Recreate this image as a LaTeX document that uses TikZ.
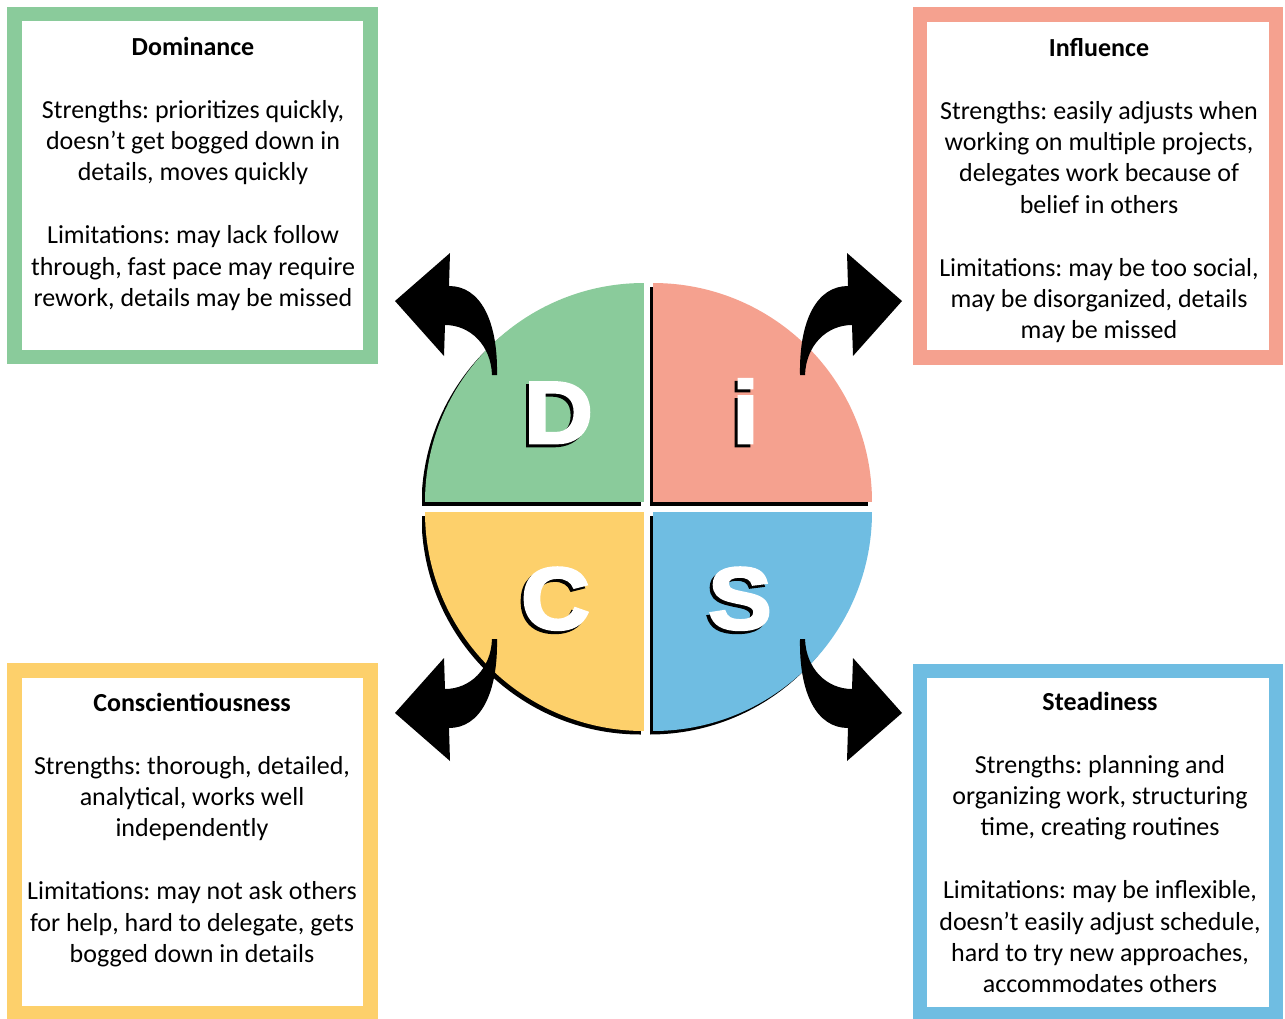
\documentclass[tikz,border=0pt]{standalone}
\usepackage{fontspec}
\usepackage{graphicx}
\setmainfont{Carlito}
\newfontface\discfont{Liberation Sans Bold}[FakeBold=3]

\definecolor{dgreen}{HTML}{8ACB9B}
\definecolor{ipink}{HTML}{F5A18F}
\definecolor{cyellow}{HTML}{FDD06B}
\definecolor{sblue}{HTML}{6FBDE2}

% one curved arrow, drawn for the upper-left corner relative to the disc centre
\newcommand{\discarrow}{%
  \fill[black] (-156.5,-132) .. controls (-157.5,-162) and (-178.5,-182) .. (-203.5,-182)
    -- (-204.5,-151) -- (-253.5,-206) -- (-198.5,-254) -- (-199.5,-221)
    .. controls (-168.5,-221) and (-150.5,-187) .. (-151.5,-132) -- cycle;}

\tikzset{
  frame/.style={draw=#1, line width=14.5pt, fill=white, minimum width=356pt,
    minimum height=343pt, inner sep=0pt},
  boxtext/.style={align=center, anchor=north, inner sep=0pt, text=black,
    font=\fontsize{26}{31.4}\selectfont\frenchspacing},
  letter/.style={anchor=base, inner sep=0pt, text=white,
    font=\discfont\fontsize{88}{88}\selectfont},
  lettershadow/.style={letter, text=black},
}

\begin{document}
\begin{tikzpicture}[x=1pt, y=-1pt]
\useasboundingbox (0,0) rectangle (1285,1018);
\fill[white] (0,0) rectangle (1285,1018);

% ---------- quadrant shadows ----------
\begin{scope}[shift={(-3.5,3.5)}]
  \begin{scope}\clip (644,502) circle[radius=219pt];
    \fill[black] (425,283) rectangle (644,502);\end{scope}
  \begin{scope}\clip (653,502) circle[radius=219pt];
    \fill[black] (653,283) rectangle (872,502);\end{scope}
  \begin{scope}\clip (644,512) circle[radius=219pt];
    \fill[black] (425,512) rectangle (644,731);\end{scope}
  \begin{scope}\clip (653,512) circle[radius=219pt];
    \fill[black] (653,512) rectangle (872,731);\end{scope}
\end{scope}

% ---------- coloured quadrants ----------
\begin{scope}\clip (644,502) circle[radius=219pt];
  \fill[dgreen] (425,283) rectangle (644,502);\end{scope}
\begin{scope}\clip (653,502) circle[radius=219pt];
  \fill[ipink] (653,283) rectangle (872,502);\end{scope}
\begin{scope}\clip (644,512) circle[radius=219pt];
  \fill[cyellow] (425,512) rectangle (644,731);\end{scope}
\begin{scope}\clip (653,512) circle[radius=219pt];
  \fill[sblue] (653,512) rectangle (872,731);\end{scope}

% ---------- letters ----------
\node[lettershadow] (Dsh) at (555.5,446) {\scalebox{1.08}[1]{D}};
\node[letter] (D) at (558.5,443) {\scalebox{1.08}[1]{D}};
\node[lettershadow] (ish) at (742.5,446) {\scalebox{1.08}[1]{i}};
\node[letter] (i) at (745.5,443) {\scalebox{1.08}[1]{i}};
\node[lettershadow] (Csh) at (552.5,632) {\scalebox{1.08}[1]{C}};
\node[letter] (C) at (555.5,629) {\scalebox{1.08}[1]{C}};
\node[lettershadow] (Ssh) at (737,632) {\scalebox{1.08}[1]{S}};
\node[letter] (S) at (740,629) {\scalebox{1.08}[1]{S}};

% ---------- curved arrows ----------
\begin{scope}[shift={(648.5,507)}]\discarrow\end{scope}
\begin{scope}[shift={(648.5,507)}, xscale=-1]\discarrow\end{scope}
\begin{scope}[shift={(648.5,507)}, yscale=-1]\discarrow\end{scope}
\begin{scope}[shift={(648.5,507)}, xscale=-1, yscale=-1]\discarrow\end{scope}

% ---------- description boxes ----------
\node[frame=dgreen] (dbox) at (192.5,185.5) {};
\node[frame=ipink] (ibox) at (1098,185.75) {};
\node[frame=cyellow] (cbox) at (192.5,841.75) {};
\node[frame=sblue] (sbox) at (1098,842.25) {};

\node[boxtext] (dtext) at (193,33.02) {\strut\textbf{Dominance}\\[31.4pt]
  Strengths: prioritizes quickly,\\ doesn’t get bogged down in\\ details, moves quickly\\[31.4pt]
  Limitations: may lack follow\\ through, fast pace may require\\ rework, details may be missed};

\node[boxtext] (itext) at (1099,34.02) {\strut\textbf{Influence}\\[31.4pt]
  Strengths: easily adjusts when\\ working on multiple projects,\\ delegates work because of\\ belief in others\\[31.4pt]
  Limitations: may be too social,\\ may be disorganized, details\\ may be missed};

\node[boxtext] (ctext) at (192,689.02) {\strut\textbf{Conscientiousness}\\[31.4pt]
  Strengths: thorough, detailed,\\ analytical, works well\\ independently\\[31.4pt]
  Limitations: may not ask others\\ for help, hard to delegate, gets\\ bogged down in details};

\node[boxtext] (stext) at (1100,688.02) {\strut\textbf{Steadiness}\\[31.4pt]
  Strengths: planning and\\ organizing work, structuring\\ time, creating routines\\[31.4pt]
  Limitations: may be inflexible,\\ doesn’t easily adjust schedule,\\ hard to try new approaches,\\ accommodates others};
\end{tikzpicture}
\end{document}
